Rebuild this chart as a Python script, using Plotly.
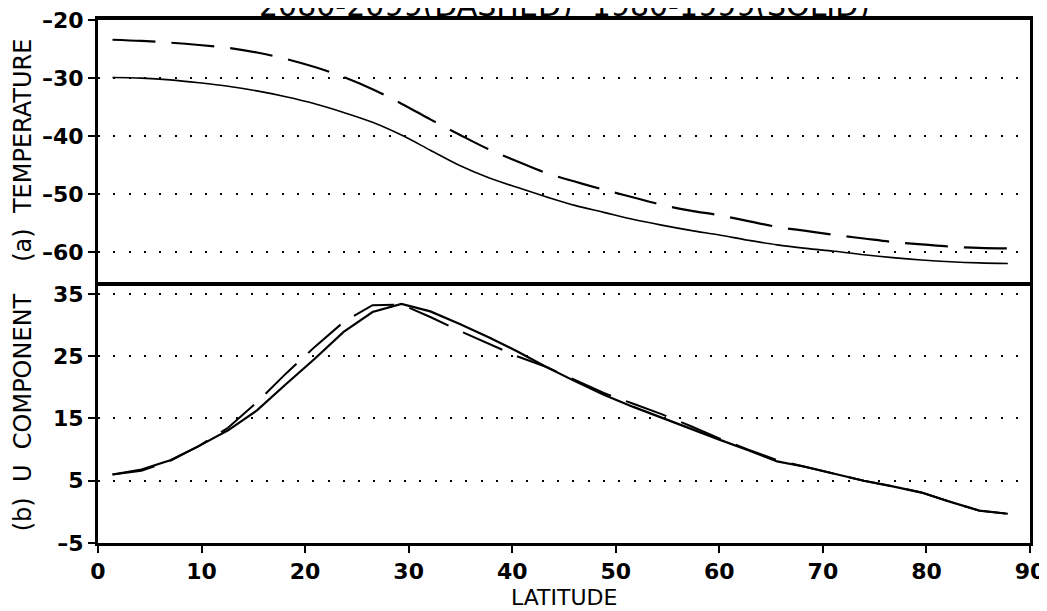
import plotly.graph_objects as go
from plotly.subplots import make_subplots

# T42 Gaussian latitudes (NH)
lat = [1.40, 4.19, 6.98, 9.77, 12.56, 15.35, 18.14, 20.93, 23.72, 26.51, 29.30, 32.09,
       34.88, 37.67, 40.46, 43.25, 46.04, 48.84, 51.63, 54.42, 57.21, 60.00, 62.79, 65.58,
       68.37, 71.16, 73.95, 76.74, 79.53, 82.31, 85.10, 87.86]

temp_1980_1999 = [-29.9, -30.0, -30.3, -30.8, -31.4, -32.2, -33.2, -34.4, -35.9, -37.6, -39.8, -42.4,
                  -45.0, -47.1, -48.8, -50.4, -51.9, -53.1, -54.3, -55.3, -56.2, -57.0, -57.9, -58.7,
                  -59.3, -59.8, -60.4, -60.9, -61.3, -61.6, -61.8, -61.9]

temp_2080_2099 = [-23.4, -23.6, -23.9, -24.3, -24.8, -25.6, -26.7, -28.1, -29.8, -31.9, -34.4, -37.1,
                  -39.7, -42.2, -44.3, -46.3, -47.8, -49.2, -50.5, -51.8, -52.8, -53.6, -54.6, -55.6,
                  -56.3, -57.0, -57.6, -58.2, -58.6, -59.0, -59.2, -59.3]

u_1980_1999 = [6.0, 6.8, 8.3, 10.6, 13.1, 16.3, 20.5, 24.6, 28.9, 32.1, 33.4, 32.2,
               30.2, 28.1, 25.8, 23.3, 21.0, 18.8, 16.9, 15.1, 13.3, 11.6, 9.9, 8.1,
               7.2, 6.1, 5.0, 4.1, 3.1, 1.6, 0.2, -0.3]

u_2080_2099 = [6.0, 6.6, 8.2, 10.6, 13.5, 17.6, 22.2, 26.5, 30.5, 33.2, 33.3, 31.3,
               29.1, 27.0, 25.0, 23.3, 21.2, 19.1, 17.4, 15.7, 13.8, 11.8, 10.0, 8.3,
               7.2, 6.1, 5.0, 4.1, 3.1, 1.6, 0.2, -0.3]

x_ticks = [0, 10, 20, 30, 40, 50, 60, 70, 80, 90]
t_ticks = [-20, -30, -40, -50, -60]
u_ticks = [35, 25, 15, 5, -5]

title_text = "2080-2099(DASHED)  1980-1999(SOLID)"
ylabel_a = "(a)  TEMPERATURE"
ylabel_b = "(b)  U  COMPONENT"
xlabel = "LATITUDE"

FONT = "DejaVu Sans"
DASH = "43px,16px"
GRIDDASH = "2px,13.3px"


def lab(v):
    return ("\u2013" + str(abs(v))) if v < 0 else str(v)


fig = make_subplots(rows=2, cols=1, shared_xaxes=False, vertical_spacing=0)

fig.add_trace(go.Scatter(x=lat, y=temp_1980_1999, mode="lines", line=dict(color="black", width=1.6),
                         line_shape="spline"), row=1, col=1)
fig.add_trace(go.Scatter(x=lat, y=temp_2080_2099, mode="lines", line=dict(color="black", width=2.2, dash=DASH),
                         line_shape="spline"), row=1, col=1)
fig.add_trace(go.Scatter(x=lat, y=u_1980_1999, mode="lines", line=dict(color="black", width=2.2)), row=2, col=1)
fig.add_trace(go.Scatter(x=lat, y=u_2080_2099, mode="lines", line=dict(color="black", width=2, dash=DASH)),
              row=2, col=1)

tickfont = dict(family=FONT, size=22, color="black", weight="bold")

fig.update_xaxes(range=[0, 90], showline=True, linecolor="black", linewidth=3,
                 showgrid=False, zeroline=False, automargin=False)
fig.update_xaxes(showticklabels=False, ticks="", mirror=True, linewidth=3.5, row=1, col=1)
fig.update_xaxes(tickvals=x_ticks, ticktext=[str(v) for v in x_ticks], ticks="outside", ticklen=7,
                 mirror=False, tickwidth=2, tickcolor="black", tickfont=tickfont,
                 ticklabeloverflow="allow", row=2, col=1)

fig.update_yaxes(showline=True, linecolor="black", linewidth=3, mirror=True, zeroline=False,
                 showgrid=True, gridcolor="black", gridwidth=2, griddash=GRIDDASH, automargin=False,
                 ticks="outside", ticklen=7, tickwidth=2, tickcolor="black", tickfont=tickfont,
                 ticklabeloverflow="allow")
fig.update_yaxes(range=[-65, -20], tickvals=t_ticks, ticktext=[lab(v) for v in t_ticks], row=1, col=1)
fig.update_yaxes(range=[-5, 37], tickvals=u_ticks, ticktext=[lab(v) for v in u_ticks], row=2, col=1)

fig.update_layout(
    width=1047, height=611,
    margin=dict(l=90, r=25, t=11.5, b=76, autoexpand=False),
    paper_bgcolor="white", plot_bgcolor="white",
    showlegend=False,
    font=dict(family=FONT, color="black"),
    annotations=[
        dict(text=title_text, xref="paper", yref="paper", x=0.5, y=1, xanchor="center", yanchor="bottom",
             yshift=-5.5, showarrow=False, font=dict(family=FONT, size=30, color="black")),
        dict(text=ylabel_a, xref="paper", yref="paper", x=0, y=0.75, xanchor="center", yanchor="middle",
             xshift=-75, textangle=-90, showarrow=False, font=dict(family=FONT, size=24, color="black")),
        dict(text=ylabel_b, xref="paper", yref="paper", x=0, y=0.25, xanchor="center", yanchor="middle",
             xshift=-75, textangle=-90, showarrow=False, font=dict(family=FONT, size=24, color="black")),
        dict(text=xlabel, xref="paper", yref="paper", x=0.5, y=0, xanchor="center", yanchor="top",
             yshift=-40, showarrow=False, font=dict(family=FONT, size=22, color="black")),
    ],
)

fig.write_html("out.html")
